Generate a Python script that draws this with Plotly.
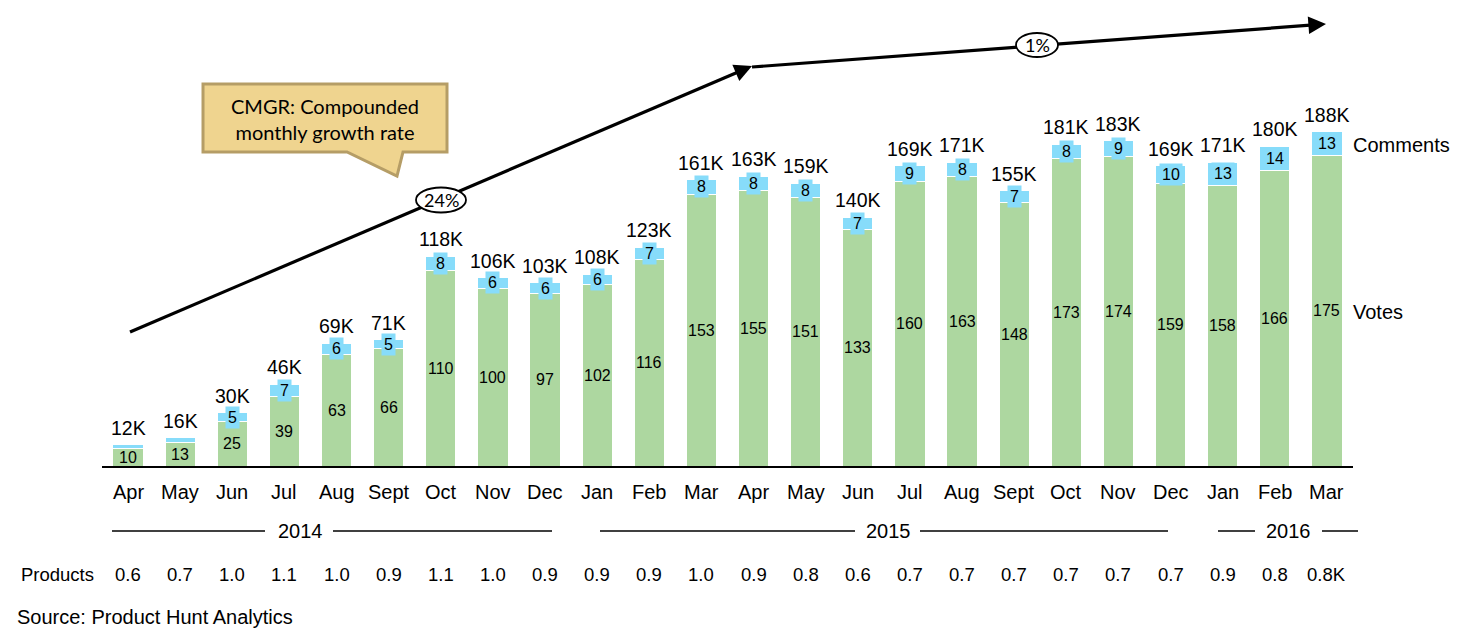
import math
import plotly.graph_objects as go

months = ["Apr", "May", "Jun", "Jul", "Aug", "Sept", "Oct", "Nov", "Dec", "Jan", "Feb", "Mar",
          "Apr", "May", "Jun", "Jul", "Aug", "Sept", "Oct", "Nov", "Dec", "Jan", "Feb", "Mar"]
votes = [10, 13, 25, 39, 63, 66, 110, 100, 97, 102, 116, 153, 155, 151, 133, 160, 163, 148,
         173, 174, 159, 158, 166, 175]
comments = [2, 3, 5, 7, 6, 5, 8, 6, 6, 6, 7, 8, 8, 8, 7, 9, 8, 7, 8, 9, 10, 13, 14, 13]
totals = ["12K", "16K", "30K", "46K", "69K", "71K", "118K", "106K", "103K", "108K", "123K", "161K",
          "163K", "159K", "140K", "169K", "171K", "155K", "181K", "183K", "169K", "171K", "180K", "188K"]
products = ["0.6", "0.7", "1.0", "1.1", "1.0", "0.9", "1.1", "1.0", "0.9", "0.9", "0.9", "1.0",
            "0.9", "0.8", "0.6", "0.7", "0.7", "0.7", "0.7", "0.7", "0.7", "0.9", "0.8", "0.8K"]
cmgr_labels = ["24%", "1%"]

GREEN = "#ADD7A0"
BLUE = "#87DCFA"
FONT = "Arial, Liberation Sans, sans-serif"
CFONT = "Lato, Open Sans, sans-serif"

OFF = 8  # page body margin
W, H = 1466 - 2 * OFF, 642 - 2 * OFF
SX0, SX1, SBASE = 102, 1353, 466  # screen pixels: plot left/right, baseline
ML = SX0 - OFF
MR = W - (SX1 - OFF)
MT = 0
MB = H - (SBASE - OFF)
PW = SX1 - SX0
PH = H - MT - MB
PXU = 311 / 175.0          # pixels per K-unit
YMAX = PH / PXU


def pxx(s):
    return (s - SX0) / PW


def pxy(s):
    return (SBASE - s) / PH


def dx(s):
    return (s - SX0) / PW * len(months) - 0.5


def dy(s):
    return (SBASE - s) / PH * YMAX


x = list(range(len(months)))
tops = [v + c for v, c in zip(votes, comments)]

fig = go.Figure()
fig.add_trace(go.Bar(
    x=x, y=votes, marker=dict(color=GREEN, line=dict(color="white", width=1)),
    hoverinfo="skip", showlegend=False))
fig.add_trace(go.Bar(
    x=x, y=comments, marker=dict(color=BLUE, line=dict(color="white", width=1)),
    hoverinfo="skip", showlegend=False))

ann = []
shapes = []
# vote labels
for i, v in enumerate(votes):
    ann.append(dict(x=i, y=v / 2, xref="x", yref="y", text=str(v), showarrow=False,
                    xanchor="center", yanchor="middle",
                    font=dict(family=FONT, size=16, color="black")))
# comment labels
for i, (v, c) in enumerate(zip(votes, comments)):
    if c >= 5:
        ann.append(dict(x=i, y=v + c / 2, xref="x", yref="y", text=str(c), showarrow=False,
                        xanchor="center", yanchor="middle", bgcolor=BLUE, borderpad=2,
                        font=dict(family=FONT, size=16, color="black")))
# totals
for i, t in enumerate(tops):
    ann.append(dict(x=i, y=t, xref="x", yref="y", text=totals[i], showarrow=False,
                    xanchor="center", yanchor="bottom", yshift=4,
                    font=dict(family=FONT, size=19.5, color="black")))
# month labels
for i, m in enumerate(months):
    ann.append(dict(x=i, y=0, xref="x", yref="paper", text=m, showarrow=False,
                    xanchor="center", yanchor="middle", yshift=-26,
                    font=dict(family=FONT, size=20, color="black")))
# products row
ann.append(dict(x=pxx(19), y=pxy(574), xref="paper", yref="paper", text="Products",
                showarrow=False, xanchor="left", yanchor="middle",
                font=dict(family=FONT, size=18.5, color="black")))
for i, p in enumerate(products):
    ann.append(dict(x=i, y=pxy(574), xref="x", yref="paper", text=p, showarrow=False,
                    xanchor="center", yanchor="middle",
                    font=dict(family=FONT, size=18.5, color="black")))
# source
ann.append(dict(x=pxx(15), y=pxy(617), xref="paper", yref="paper",
                text="Source: Product Hunt Analytics", showarrow=False,
                xanchor="left", yanchor="middle", font=dict(family=FONT, size=20, color="black")))
# series labels
ann.append(dict(x=pxx(1351), y=pxy(145), xref="paper", yref="paper", text="Comments",
                showarrow=False, xanchor="left", yanchor="middle",
                font=dict(family=FONT, size=20, color="black")))
ann.append(dict(x=pxx(1351), y=pxy(312), xref="paper", yref="paper", text="Votes",
                showarrow=False, xanchor="left", yanchor="middle",
                font=dict(family=FONT, size=20, color="black")))

# year row
years = [("2014", 300, 112, 265, 333, 552),
         ("2015", 888, 600, 855, 920, 1168),
         ("2016", 1288, 1218, 1255, 1322, 1358)]
YR = pxy(531)
for label, cx, a0, a1, b0, b1 in years:
    ann.append(dict(x=pxx(cx), y=YR, xref="paper", yref="paper", text=label, showarrow=False,
                    xanchor="center", yanchor="middle",
                    font=dict(family=FONT, size=20, color="black")))
    for s0, s1 in ((a0, a1), (b0, b1)):
        shapes.append(dict(type="line", xref="paper", yref="paper", x0=pxx(s0), x1=pxx(s1),
                           y0=YR, y1=YR, line=dict(color="black", width=1.5)))

# growth arrows: line shapes + small arrowhead annotations
arrows = [((130, 332), (752, 66)), ((752, 67), (1326, 24))]
for (sx, sy), (ex, ey) in arrows:
    shapes.append(dict(type="line", xref="x", yref="y", x0=dx(sx), y0=dy(sy),
                       x1=dx(ex - (ex - sx) * 0.01), y1=dy(ey - (ey - sy) * 0.01),
                       line=dict(color="black", width=3.2), layer="above"))
    L = math.hypot(ex - sx, ey - sy)
    ux, uy = (ex - sx) / L, (ey - sy) / L
    ann.append(dict(x=dx(ex), y=dy(ey), xref="x", yref="y",
                    ax=-ux * 14, ay=-uy * 14, text="", showarrow=True, arrowhead=2,
                    arrowsize=1.1, arrowwidth=3.2, arrowcolor="black"))

ellipses = [(441, 200, 50, 25), (1037, 45, 42, 24)]
for (cx, cy, w, h), lab in zip(ellipses, cmgr_labels):
    shapes.append(dict(type="circle", xref="x", yref="y",
                       x0=dx(cx - w / 2), x1=dx(cx + w / 2), y0=dy(cy + h / 2), y1=dy(cy - h / 2),
                       fillcolor="white", line=dict(color="black", width=1.8), layer="above"))
    ann.append(dict(x=dx(cx), y=dy(cy), xref="x", yref="y", text=lab, showarrow=False,
                    xanchor="center", yanchor="middle",
                    font=dict(family=CFONT, size=18, color="black")))

# callout box
pts = [(203, 84), (447, 84), (447, 152), (403, 152), (397, 176), (347, 152), (203, 152)]
path = "M " + " L ".join(f"{pxx(a):.5f},{pxy(b):.5f}" for a, b in pts) + " Z"
shapes.append(dict(type="path", xref="paper", yref="paper", path=path,
                   fillcolor="#EFD48F", line=dict(color="#B59D66", width=3), layer="above"))
ann.append(dict(x=pxx(325), y=pxy(119), xref="paper", yref="paper",
                text="CMGR: Compounded<br>monthly growth rate", showarrow=False,
                xanchor="center", yanchor="middle",
                font=dict(family=CFONT, size=20, color="black")))

fig.update_layout(
    width=W, height=H, margin=dict(l=ML, r=MR, t=MT, b=MB),
    paper_bgcolor="white", plot_bgcolor="white",
    barmode="stack", bargap=0.42,
    xaxis=dict(range=[-0.5, len(months) - 0.5], showticklabels=False, showgrid=False,
               zeroline=False, showline=True, linecolor="black", linewidth=2, ticks=""),
    yaxis=dict(range=[0, YMAX], visible=False, showgrid=False, zeroline=False),
    annotations=ann, shapes=shapes,
)

fig.write_html("out.html")
